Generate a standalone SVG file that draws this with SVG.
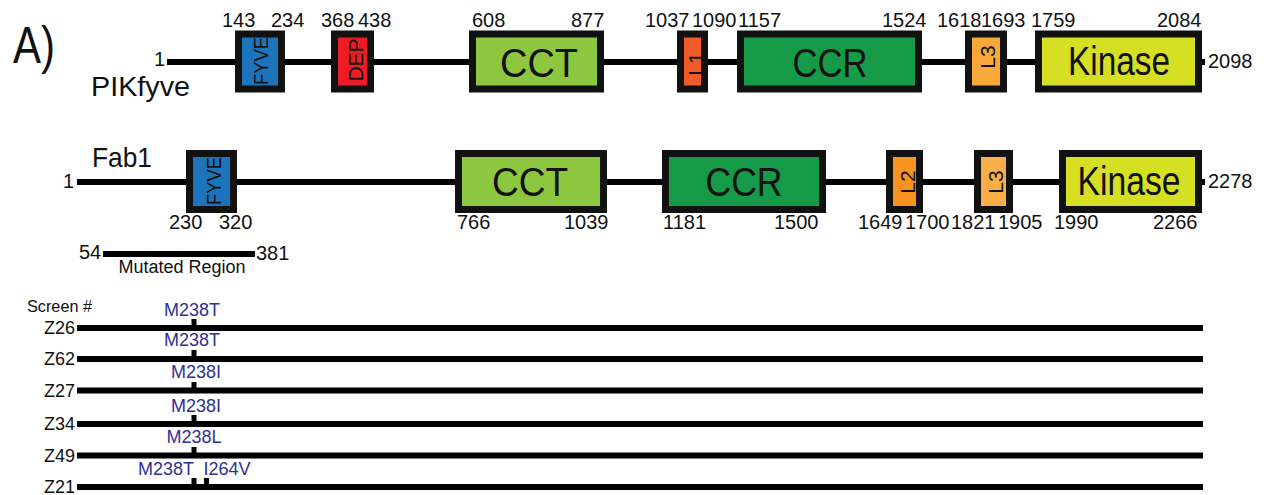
<svg xmlns="http://www.w3.org/2000/svg" width="1271" height="495" viewBox="0 0 1271 495">
  <style>
    text { font-family: "Liberation Sans", Arial, sans-serif; fill: #111; }
    .num { font-size: 20px; }
    .dom { stroke: #111; stroke-width: 7; }
    .big { font-size: 41px; text-anchor: middle; }
    .vert { font-size: 21px; text-anchor: middle; }
    .bb { stroke: #000; stroke-width: 6; fill: none; }
    .scr { font-size: 18px; text-anchor: end; }
    .mut { font-size: 18px; fill: #2e3192; text-anchor: middle; }
    .tick { fill: #000; }
  </style>

  <!-- panel label -->
  <text x="13" y="63" font-size="52" textLength="42" lengthAdjust="spacingAndGlyphs">A)</text>

  <!-- backbones -->
  <g id="connectors">
    <line class="bb" x1="167" y1="62" x2="1205" y2="62"/>
    <line class="bb" x1="77" y1="182" x2="1205" y2="182"/>
    <line class="bb" x1="103" y1="254" x2="255" y2="254" stroke-width="5"/>
    <line class="bb" x1="77" y1="328" x2="1203" y2="328"/>
    <line class="bb" x1="77" y1="359" x2="1203" y2="359"/>
    <line class="bb" x1="77" y1="390.5" x2="1203" y2="390.5"/>
    <line class="bb" x1="77" y1="424" x2="1203" y2="424"/>
    <line class="bb" x1="77" y1="455.5" x2="1203" y2="455.5"/>
    <line class="bb" x1="77" y1="487" x2="1203" y2="487"/>
  </g>

  <!-- PIKfyve -->
  <g id="pikfyve">
    <text x="91" y="96" font-size="28" textLength="99" lengthAdjust="spacingAndGlyphs">PIKfyve</text>
    <text class="num" x="154" y="66">1</text>
    <text class="num" x="1208" y="68">2098</text>
    <text class="num" x="222" y="27">143</text>
    <text class="num" x="271" y="27">234</text>
    <text class="num" x="321" y="27">368</text>
    <text class="num" x="358" y="27">438</text>
    <text class="num" x="472" y="27">608</text>
    <text class="num" x="571" y="27">877</text>
    <text class="num" x="645" y="27">1037</text>
    <text class="num" x="692" y="27">1090</text>
    <text class="num" x="738" y="27">1157</text>
    <text class="num" x="882" y="27">1524</text>
    <text class="num" x="937" y="27">1618</text>
    <text class="num" x="981" y="27">1693</text>
    <text class="num" x="1031" y="27">1759</text>
    <text class="num" x="1157" y="27">2084</text>
  </g>
  <g id="pik-fyve">
    <rect class="dom" x="238.5" y="34" width="43" height="55" fill="#1c75bc"/>
    <text class="vert" font-size="20" textLength="48" lengthAdjust="spacingAndGlyphs" transform="translate(268,61) rotate(-90)">FYVE</text>
  </g>
  <g id="pik-dep">
    <rect class="dom" x="334.5" y="34" width="36" height="55" fill="#ed1c24"/>
    <text class="vert" font-size="23" transform="translate(363,60) rotate(-90)">DEP</text>
  </g>
  <g id="pik-cct">
    <rect class="dom" x="472.5" y="34" width="128" height="55" fill="#8dc63f"/>
    <text class="big" x="539" y="77" textLength="78" lengthAdjust="spacingAndGlyphs">CCT</text>
  </g>
  <g id="pik-l1">
    <rect class="dom" x="680.5" y="34" width="24" height="55" fill="#f15a29"/>
    <text class="vert" transform="translate(703,64) rotate(-90)">L1</text>
  </g>
  <g id="pik-ccr">
    <rect class="dom" x="740.5" y="34" width="178" height="55" fill="#159a48"/>
    <text class="big" x="830" y="77" textLength="75" lengthAdjust="spacingAndGlyphs">CCR</text>
  </g>
  <g id="pik-l3">
    <rect class="dom" x="968.5" y="34" width="35" height="55" fill="#f9a93a"/>
    <text class="vert" transform="translate(995,57) rotate(-90)">L3</text>
  </g>
  <g id="pik-kinase">
    <rect class="dom" x="1038.5" y="34" width="160" height="55" fill="#d7df23"/>
    <text class="big" font-size="39" x="1119" y="75" textLength="102" lengthAdjust="spacingAndGlyphs">Kinase</text>
  </g>

  <!-- Fab1 -->
  <g id="fab1">
    <text x="92" y="167" font-size="28" textLength="60" lengthAdjust="spacingAndGlyphs">Fab1</text>
    <text class="num" x="63" y="188">1</text>
    <text class="num" x="1208" y="188">2278</text>
    <text class="num" x="169" y="229">230</text>
    <text class="num" x="219" y="229">320</text>
    <text class="num" x="457" y="229">766</text>
    <text class="num" x="564" y="229">1039</text>
    <text class="num" x="663" y="229">1181</text>
    <text class="num" x="774" y="229">1500</text>
    <text class="num" x="858" y="229">1649</text>
    <text class="num" x="905" y="229">1700</text>
    <text class="num" x="951" y="229">1821</text>
    <text class="num" x="998" y="229">1905</text>
    <text class="num" x="1054" y="229">1990</text>
    <text class="num" x="1153" y="229">2266</text>
  </g>
  <g id="fab-fyve">
    <rect class="dom" x="189.5" y="153.5" width="44" height="56" fill="#1c75bc"/>
    <text class="vert" font-size="20" textLength="48" lengthAdjust="spacingAndGlyphs" transform="translate(221,181) rotate(-90)">FYVE</text>
  </g>
  <g id="fab-cct">
    <rect class="dom" x="458.5" y="153.5" width="145" height="56" fill="#8dc63f"/>
    <text class="big" x="530" y="196" textLength="76" lengthAdjust="spacingAndGlyphs">CCT</text>
  </g>
  <g id="fab-ccr">
    <rect class="dom" x="665.5" y="153.5" width="157" height="56" fill="#159a48"/>
    <text class="big" x="744" y="196" textLength="77" lengthAdjust="spacingAndGlyphs">CCR</text>
  </g>
  <g id="fab-l2">
    <rect class="dom" x="889.5" y="153.5" width="30" height="56" fill="#f7931e"/>
    <text class="vert" transform="translate(915,182) rotate(-90)">L2</text>
  </g>
  <g id="fab-l3">
    <rect class="dom" x="977.5" y="153.5" width="32" height="56" fill="#fbad47"/>
    <text class="vert" transform="translate(1003,182) rotate(-90)">L3</text>
  </g>
  <g id="fab-kinase">
    <rect class="dom" x="1062.5" y="153.5" width="136" height="56" fill="#d7df23"/>
    <text class="big" font-size="39" x="1129" y="195" textLength="103" lengthAdjust="spacingAndGlyphs">Kinase</text>
  </g>

  <!-- mutated region -->
  <g id="mutated-region">
    <text class="num" font-size="19" x="79" y="259">54</text>
    <text class="num" font-size="19" x="256" y="260">381</text>
    <text x="182" y="273" font-size="18" text-anchor="middle" textLength="127" lengthAdjust="spacingAndGlyphs">Mutated Region</text>
  </g>

  <!-- screen hits -->
  <g id="screens">
    <text x="27" y="312" font-size="17" textLength="65" lengthAdjust="spacingAndGlyphs">Screen #</text>
    <text class="scr" x="75" y="334">Z26</text>
    <text class="scr" x="75" y="365">Z62</text>
    <text class="scr" x="75" y="397">Z27</text>
    <text class="scr" x="75" y="430">Z34</text>
    <text class="scr" x="75" y="462">Z49</text>
    <text class="scr" x="75" y="493">Z21</text>
  </g>
  <g id="mutations">
    <rect class="tick" x="191.5" y="319" width="5" height="8"/>
    <text class="mut" x="192" y="316">M238T</text>
    <rect class="tick" x="191.5" y="350" width="5" height="8"/>
    <text class="mut" x="192" y="346">M238T</text>
    <rect class="tick" x="191.5" y="382" width="5" height="8"/>
    <text class="mut" x="196" y="378">M238I</text>
    <rect class="tick" x="191.5" y="415" width="5" height="8"/>
    <text class="mut" x="196" y="412">M238I</text>
    <rect class="tick" x="191.5" y="447" width="5" height="8"/>
    <text class="mut" x="194" y="443">M238L</text>
    <rect class="tick" x="191.5" y="478" width="5" height="8"/>
    <rect class="tick" x="204" y="478" width="5" height="8"/>
    <text class="mut" x="166" y="475">M238T</text>
    <text class="mut" x="227" y="475">I264V</text>
  </g>
</svg>
